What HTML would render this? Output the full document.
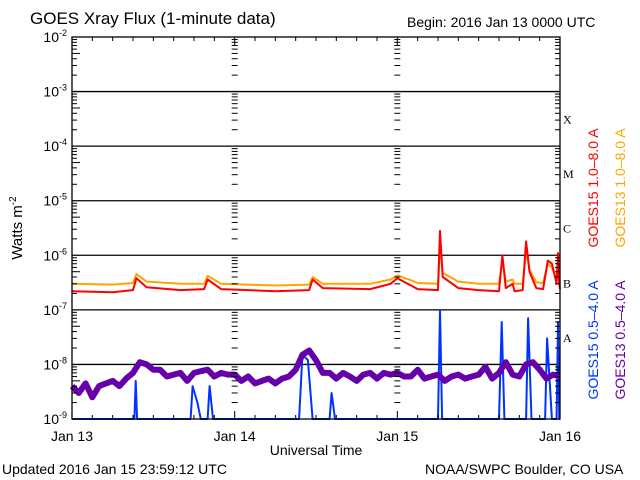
<!DOCTYPE html>
<html><head><meta charset="utf-8"><style>
body{margin:0;background:#fff;}
svg{display:block;font-family:"Liberation Sans",sans-serif;}
</style></head><body>
<svg id="c" width="640" height="480" viewBox="0 0 640 480">
<rect width="640" height="480" fill="#fff"/>
<text x="30" y="24" font-size="17">GOES Xray Flux (1-minute data)</text>
<text x="407" y="27" font-size="14">Begin:  2016 Jan 13 0000 UTC</text>
<text x="2" y="474" font-size="14">Updated 2016 Jan 15 23:59:12 UTC</text>
<text x="425" y="474" font-size="14">NOAA/SWPC Boulder, CO USA</text>
<text x="316" y="455" font-size="14" text-anchor="middle">Universal Time</text>
<text transform="translate(22,228) rotate(-90)" font-size="15" text-anchor="middle">Watts m<tspan font-size="10" dy="-6">-2</tspan></text>
<g id="grid"></g>
<g id="series"></g>
<g id="axes"></g>
<text transform="translate(598,188) rotate(-90)" font-size="14" fill="#ff0000" text-anchor="middle">GOES15 1.0–8.0 A</text>
<text transform="translate(625,188) rotate(-90)" font-size="14" fill="#ffa500" text-anchor="middle">GOES13 1.0–8.0 A</text>
<text transform="translate(598,340) rotate(-90)" font-size="14" fill="#0033ff" text-anchor="middle">GOES15 0.5–4.0 A</text>
<text transform="translate(625,340) rotate(-90)" font-size="14" fill="#6600aa" text-anchor="middle">GOES13 0.5–4.0 A</text>
</svg>
<script>
const dayLabels=["Jan 13","Jan 14","Jan 15","Jan 16"];
const decades=[-2,-3,-4,-5,-6,-7,-8,-9];
const flareClasses=["X","M","C","B","A"];
const redT=[0,6,9,9.5,11,16,19.5,20,22,30,35,35.5,37,44,47,48,50,51,54,54.3,54.7,57,60,63,63.5,64,65,65.3,66.5,67,67.5,68.5,69.5,70.2,70.8,71.5,71.7,71.9,72];
const redV=[2.2e-7,2.1e-7,2.3e-7,3.8e-7,2.6e-7,2.3e-7,2.4e-7,3.6e-7,2.4e-7,2.2e-7,2.3e-7,3.6e-7,2.5e-7,2.4e-7,3.0e-7,3.8e-7,2.8e-7,2.4e-7,2.3e-7,2.8e-6,4e-7,2.5e-7,2.3e-7,2.2e-7,1.0e-6,2.5e-7,3e-7,2.2e-7,2.3e-7,1.8e-6,5e-7,2.5e-7,2.4e-7,8e-7,7e-7,3e-7,1.1e-6,3e-7,2.4e-7];
const orangeV=[3.0e-7,2.9e-7,3.1e-7,4.5e-7,3.3e-7,3.0e-7,3.0e-7,4.2e-7,3.0e-7,2.8e-7,2.9e-7,4.0e-7,3.0e-7,3.0e-7,3.6e-7,4.3e-7,3.5e-7,3.1e-7,3.0e-7,1.5e-6,4.8e-7,3.3e-7,3.0e-7,3.0e-7,8e-7,3.3e-7,3.6e-7,3.0e-7,3.0e-7,1.2e-6,5.5e-7,3.2e-7,3.1e-7,7e-7,6e-7,3.6e-7,9e-7,3.6e-7,3.0e-7];
const purpleV=[4e-9,3e-9,4.5e-9,2.5e-9,4e-9,4.5e-9,5e-9,4e-9,5.5e-9,7e-9,1.1e-8,1.0e-8,8e-9,8e-9,6e-9,6.5e-9,7e-9,5e-9,7e-9,7.5e-9,8e-9,6e-9,7e-9,6.5e-9,
6.5e-9,5e-9,6e-9,4.5e-9,5e-9,5.5e-9,4.5e-9,5.5e-9,6e-9,8e-9,1.5e-8,1.8e-8,1.2e-8,7e-9,7e-9,5.5e-9,7e-9,6e-9,5e-9,6.5e-9,7e-9,5.5e-9,7e-9,6.5e-9,
7e-9,6e-9,6e-9,8e-9,5.5e-9,6e-9,6.5e-9,5e-9,6e-9,6.5e-9,5.5e-9,6e-9,6.5e-9,9e-9,5.5e-9,7e-9,1.1e-8,6.5e-9,6e-9,1.0e-8,1.1e-8,8e-9,5.5e-9,6.5e-9,6e-9];
const blueT=[0,9.2,9.4,9.6,17.5,17.8,18.5,19,20,20.3,20.8,33.5,34,34.8,35.5,38,38.3,38.8,54,54.3,54.6,63,63.4,63.8,67,67.3,67.8,69.8,70.1,70.8,71.5,71.7,71.9,72];
const blueV=[1e-9,1e-9,5e-9,1e-9,1e-9,4e-9,2e-9,1e-9,1e-9,4e-9,1e-9,1e-9,1.5e-8,1.2e-8,1e-9,1e-9,3e-9,1e-9,1e-9,1e-7,1e-9,1e-9,6e-8,1e-9,1e-9,7e-8,1e-9,1e-9,3e-8,1e-9,1e-9,6e-8,1e-9,1e-9];

const X0=72,X1=560,Y0=37,Y1=419;
const x=h=>X0+h/72*(X1-X0);
const y=v=>{let l=Math.max(Math.log10(v),-9);return Y0+(-2-l)/7*(Y1-Y0);};
const NS="http://www.w3.org/2000/svg";
function mk(tag,attrs,parent){const e=document.createElementNS(NS,tag);for(const k in attrs)e.setAttribute(k,attrs[k]);parent.appendChild(e);return e;}
const grid=document.getElementById('grid'),ser=document.getElementById('series'),ax=document.getElementById('axes');
decades.forEach((d,i)=>{
 const yy=y(Math.pow(10,d));
 if(d<-2&&d>-9){const l=mk('line',{x1:X0,x2:X1,y1:yy,y2:yy,stroke:'#000','stroke-width':1.3},grid);
 
 }
 const t=mk('text',{x:X0-5,y:yy+5,'font-size':14,'text-anchor':'end'},ax);
 
 
 t.innerHTML='10<tspan font-size="9" dy="-6">'+d+'</tspan>';
 if(d>-9){for(let m=2;m<=9;m++){const ym=y(m*Math.pow(10,d-1));
  [[X0,X0+(m==5?8:5)],[x(24)-3,x(24)+3],[x(48)-3,x(48)+3],[X1-5,X1]].forEach(p=>mk('line',{x1:p[0],x2:p[1],y1:ym,y2:ym,stroke:'#000'},ax));}}
});
flareClasses.forEach((c,i)=>{const t=mk('text',{x:563,y:y(Math.pow(10,-3-i))+32,'font-size':12,'font-family':'Liberation Serif, serif'},ax);
 
 
 t.textContent=c;});
for(let h=0;h<=72;h+=3){const xx=x(h),L=h%24==0?8:4;
 mk('line',{x1:xx,x2:xx,y1:Y0,y2:Y0+L,stroke:'#000'},ax);mk('line',{x1:xx,x2:xx,y1:Y1,y2:Y1-L,stroke:'#000'},ax);}
dayLabels.forEach((d,i)=>{const t=mk('text',{x:x(i*24),y:441,'font-size':14,'text-anchor':'middle'},ax);
 
 
 t.textContent=d;});
const frame=mk('rect',{x:X0,y:Y0,width:X1-X0,height:Y1-Y0,fill:'none',stroke:'#000','stroke-width':1.3},ax);


function path(ts,vs,color,w,name){let d='';ts.forEach((t,i)=>{d+=(i?'L':'M')+x(t).toFixed(1)+','+y(vs[i]).toFixed(1);});
 const p=mk('path',{d:d,fill:'none',stroke:color,'stroke-width':w,'stroke-linejoin':'round'},ser);
 
 }
const hours=purpleV.map((v,i)=>i);
path(blueT,blueV,'#0033ff',2,'goes15-short-line');
path(hours,purpleV,'#6600aa',6,'goes13-short-line');
path(redT,orangeV,'#ffa500',2,'goes13-long-line');
path(redT,redV,'#ff0000',2,'goes15-long-line');
</script>
</body></html>
